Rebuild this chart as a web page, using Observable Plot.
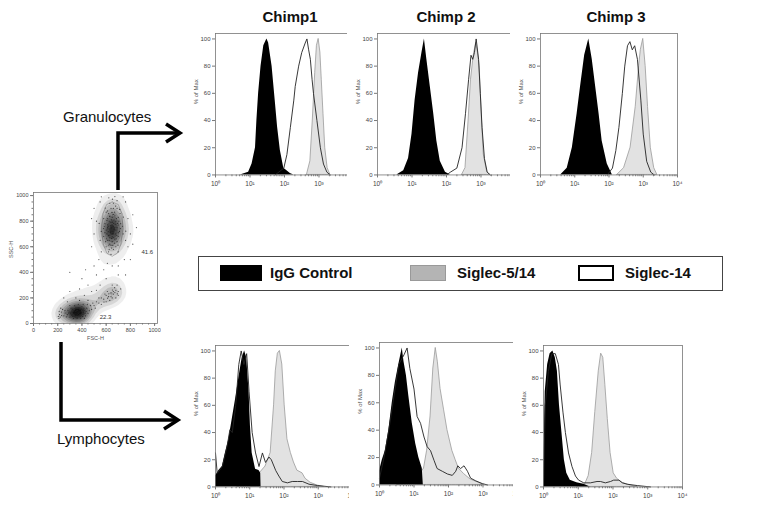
<!DOCTYPE html>
<html><head><meta charset="utf-8">
<script src="https://cdn.jsdelivr.net/npm/d3@7"></script>
<script src="https://cdn.jsdelivr.net/npm/@observablehq/plot@0.6"></script>
<style>
body{margin:0;background:#fff;font-family:"Liberation Sans",Arial,sans-serif;}
#root{position:relative;width:761px;height:508px;overflow:hidden;background:#fff;}
.abs{position:absolute;}
.title{position:absolute;font-weight:bold;font-size:15px;color:#111;transform:translate(-50%,-50%);white-space:nowrap;}
.pop{position:absolute;font-size:15px;color:#111;white-space:nowrap;transform:translateY(-50%);}
.leg{position:absolute;left:198px;top:256px;width:525px;height:35px;box-sizing:border-box;border:1.5px solid #444;}
.sw{position:absolute;box-sizing:border-box;}
.lt{position:absolute;font-weight:bold;font-size:15px;color:#111;transform:translateY(-50%);white-space:nowrap;}
</style></head>
<body><div id="root"></div>
<script>
// ---------- data ----------
const chimps = ["Chimp1", "Chimp 2", "Chimp 3"];
const populations = ["Granulocytes", "Lymphocytes"];
const legendLabels = ["IgG Control", "Siglec-5/14", "Siglec-14"];
const histTicks = [1, 10, 100, 1000, 10000];
const pctTicks = [0, 20, 40, 60, 80, 100];
const scatterTicks = [0, 200, 400, 600, 800, 1000];
const gateLabels = [{fsc: 940, ssc: 555, t: "41.6"}, {fsc: 595, ssc: 48, t: "22.3"}];

// histogram series: [log10 fluorescence, % of max]
// Granulocytes
const g1Igg = [[0.72,0],[0.96,2],[1.06,8],[1.16,20],[1.2,40],[1.25,60],[1.32,80],[1.4,95],[1.49,100],[1.54,97],[1.64,80],[1.73,55],[1.8,35],[1.88,18],[1.98,5],[2.17,1],[2.27,0]];
const g1S14 = [[1.73,0],[1.98,5],[2.07,15],[2.17,35],[2.27,55],[2.31,65],[2.41,80],[2.5,90],[2.6,97],[2.65,100],[2.7,92],[2.75,85],[2.8,70],[2.84,60],[2.94,40],[3.04,20],[3.13,8],[3.23,2],[3.33,0]];
const g1S514 = [[2.65,0],[2.75,10],[2.82,40],[2.89,75],[2.94,95],[2.99,100],[3.04,90],[3.08,70],[3.13,45],[3.18,20],[3.25,5],[3.33,0]];
const g2Igg = [[0.56,0],[0.76,3],[0.9,12],[1.0,30],[1.09,55],[1.19,75],[1.29,90],[1.36,100],[1.43,85],[1.53,65],[1.63,45],[1.72,25],[1.82,10],[1.97,2],[2.11,0]];
const g2S14 = [[2.01,0],[2.11,2],[2.3,5],[2.45,20],[2.55,45],[2.64,70],[2.71,88],[2.76,85],[2.81,90],[2.86,100],[2.93,85],[2.98,60],[3.03,35],[3.1,12],[3.18,2],[3.27,0]];
const g2S514 = [[2.45,0],[2.55,5],[2.64,40],[2.71,70],[2.79,88],[2.86,97],[2.91,90],[2.96,80],[3.03,40],[3.08,15],[3.18,2],[3.27,0]];
const g3Igg = [[0.59,0],[0.78,5],[0.93,20],[1.07,45],[1.17,65],[1.29,88],[1.41,100],[1.51,85],[1.61,65],[1.71,45],[1.8,25],[1.95,8],[2.1,0]];
const g3S14 = [[1.95,0],[2.1,5],[2.2,18],[2.29,35],[2.39,60],[2.46,80],[2.54,95],[2.61,98],[2.68,92],[2.75,95],[2.83,85],[2.93,55],[3.0,30],[3.1,10],[3.22,2],[3.32,0]];
const g3S514 = [[2.24,0],[2.44,5],[2.63,20],[2.78,50],[2.88,80],[2.93,92],[3.0,100],[3.07,80],[3.14,50],[3.22,20],[3.32,5],[3.41,0]];
// Lymphocytes
const l1Igg = [[0,8],[0.1,12],[0.2,15],[0.29,25],[0.39,35],[0.49,50],[0.59,65],[0.68,80],[0.78,95],[0.85,100],[0.91,95],[0.98,70],[1.02,45],[1.07,25],[1.17,13],[1.27,12],[1.32,10],[1.33,0]];
const l1S14 = [[0,25],[0.05,10],[0.2,15],[0.34,30],[0.42,42],[0.49,40],[0.59,60],[0.68,90],[0.75,100],[0.83,90],[0.91,98],[0.98,70],[1.07,40],[1.17,25],[1.27,15],[1.37,25],[1.46,18],[1.56,22],[1.63,20],[1.76,12],[1.85,8],[1.95,4],[2.1,3],[2.24,4],[2.39,4],[2.54,4],[2.73,2],[2.98,1],[3.37,0]];
const l1S514 = [[0.63,0],[0.93,2],[1.22,8],[1.46,15],[1.61,25],[1.71,60],[1.76,85],[1.82,98],[1.88,100],[1.95,90],[2.02,60],[2.1,35],[2.2,25],[2.29,18],[2.39,12],[2.54,10],[2.63,6],[2.78,3],[2.98,1],[3.17,0]];
const l2Igg = [[0,10],[0.08,18],[0.17,25],[0.27,40],[0.37,60],[0.46,75],[0.56,88],[0.66,100],[0.71,90],[0.78,80],[0.85,65],[0.95,45],[1.05,30],[1.14,20],[1.24,12],[1.27,0]];
const l2S14 = [[0,5],[0.13,20],[0.27,40],[0.42,65],[0.56,88],[0.71,95],[0.8,100],[0.88,85],[1.0,70],[1.09,50],[1.19,45],[1.29,35],[1.38,28],[1.48,25],[1.58,18],[1.67,12],[1.82,10],[1.97,8],[2.11,7],[2.21,10],[2.27,14],[2.35,12],[2.45,14],[2.55,10],[2.64,5],[2.79,3],[2.98,1],[3.13,0]];
const l2S514 = [[0.51,0],[0.8,3],[1.09,5],[1.29,12],[1.38,25],[1.48,50],[1.56,85],[1.63,100],[1.69,90],[1.77,70],[1.87,55],[1.97,40],[2.11,25],[2.21,18],[2.3,12],[2.45,8],[2.64,4],[2.84,2],[3.03,0]];
const l3Igg = [[0,0],[0.05,70],[0.12,90],[0.19,98],[0.27,100],[0.34,95],[0.4,85],[0.46,60],[0.53,40],[0.6,20],[0.67,10],[0.77,5],[0.96,3],[1.16,2],[1.35,0]];
const l3S14 = [[0,0],[0.05,60],[0.14,85],[0.24,98],[0.34,98],[0.43,90],[0.48,75],[0.56,55],[0.63,40],[0.72,25],[0.82,15],[0.92,8],[1.01,5],[1.16,3],[1.35,3],[1.54,4],[1.64,4],[1.78,3],[1.93,4],[2.02,5],[2.17,5],[2.27,3],[2.41,2],[2.7,1],[3.08,0]];
const l3S514 = [[0.96,0],[1.2,2],[1.3,8],[1.4,25],[1.49,55],[1.59,85],[1.66,98],[1.72,95],[1.78,75],[1.85,50],[1.93,25],[2.02,10],[2.12,6],[2.27,3],[2.51,1],[2.7,0]];

// FSC-H / SSC-H scatter events (approximate)
const granEvents = [[620,560],[640,540],[600,600],[660,580],[680,600],[630,620],[610,650],[650,640],[690,640],[700,680],[580,680],[620,690],[660,700],[640,720],[600,730],[680,730],[710,720],[620,760],[660,760],[700,770],[590,780],[640,790],[680,800],[610,820],[650,830],[700,830],[620,860],[670,870],[640,900],[690,900],[660,940],[600,870],[720,780],[560,720],[740,700],[630,670],[670,660],[650,680],[615,740],[690,750],[645,750],[625,800],[665,810],[655,850],[635,710],[675,700],[705,800],[585,760],[605,700],[655,610],[625,580],[645,590],[715,860],[580,820],[595,640],[735,760],[550,650],[760,650],[690,960],[630,940],[700,560],[560,560],[665,735],[645,665],[628,838],[672,842],[612,772],[688,688],[652,792],[618,718],[635,765],[675,775],[655,720],[625,650],[685,820],[610,880],[660,900],[640,610],[700,710],[590,710],[648,868],[668,628],[622,688],[694,782],[606,806],[678,918],[632,840],[658,672],[642,742],[662,782],[632,692],[652,702],[672,752],[612,752],[682,662],[602,662],[718,742],[578,742],[642,812],[662,852],[622,612],[698,612],[712,892],[592,902],[652,972],[672,992],[622,982],[742,832],[542,782],[762,722]];
const lymphEvents = [[220,50],[215,70],[230,90],[250,60],[260,100],[280,70],[300,50],[300,90],[310,120],[320,70],[330,100],[340,60],[350,80],[350,120],[360,50],[370,90],[380,110],[380,70],[390,60],[400,90],[400,130],[410,70],[420,100],[430,60],[440,120],[450,80],[460,100],[470,140],[330,40],[360,40],[390,40],[420,40],[340,140],[370,150],[300,140],[320,90],[345,95],[365,70],[395,80],[415,115],[435,95],[355,105],[375,60],[325,55],[305,75],[285,100],[410,150],[445,150],[480,110],[490,160],[335,80],[385,95],[405,55],[355,65],[425,80],[370,120],[345,50],[395,110],[210,40],[240,110],[362,82],[372,78],[352,92],[382,88],[392,72],[342,72],[402,102],[412,88],[362,102],[332,68],[322,112],[312,62],[292,82],[272,52],[262,82],[232,62],[205,55],[212,95],[225,120]];
const monoEvents = [[500,140],[520,170],[540,160],[560,200],[580,190],[600,220],[620,210],[640,240],[660,230],[680,260],[700,250],[650,200],[630,180],[610,250],[670,280],[700,220],[720,270],[560,150],[590,230],[540,200],[510,120],[690,300],[650,300],[600,170],[680,200],[660,250],[640,210],[622,232],[672,242],[652,262],[692,232],[612,198],[582,168]];
const strayEvents = [[300,250],[400,350],[450,300],[500,450],[520,380],[550,300],[300,400],[350,200],[420,220],[480,250],[540,500],[580,420],[700,450],[750,500],[780,600],[800,700],[820,850],[500,700],[520,800],[480,600],[760,950],[550,950],[800,500],[600,350],[450,180],[250,200],[380,270],[700,380],[760,380],[650,450],[850,750],[500,900],[430,420],[610,470],[820,620],[780,820],[480,820],[560,990],[740,990],[380,180],[520,260],[280,170]];
const granGate = [[650,950],[700,930],[730,860],[738,740],[722,620],[692,550],[650,525],[606,550],[576,620],[562,740],[574,860],[604,930],[650,950]];

// ---------- helpers ----------
const root = document.getElementById("root");
const SUP = {0:"\u2070",1:"\u00b9",2:"\u00b2",3:"\u00b3",4:"\u2074"};
const minorTicks = [];
for (let d = 0; d < 4; d++) for (let m = 2; m <= 9; m++) minorTicks.push(m * 10 ** d);
const FONT = "'Liberation Sans', Arial, sans-serif";

function place(node, left, top) {
  const w = document.createElement("div");
  w.className = "abs";
  w.style.left = left + "px";
  w.style.top = top + "px";
  w.appendChild(node);
  root.appendChild(w);
}
const toPts = (arr) => arr.map(([e, v]) => ({x: 10 ** e, y: v}));

function hist(left, right, y0, y100, igg, s514, s14) {
  const k = (y0 - y100) / 100;
  const yTop = y0 - 104 * k;
  const ml = 30, mr = 8, mt = 4, mb = 22;
  const svg = Plot.plot({
    width: right - left + ml + mr,
    height: y0 - yTop + mt + mb,
    marginLeft: ml, marginRight: mr, marginTop: mt, marginBottom: mb,
    style: {fontFamily: FONT, fontSize: "6px", color: "#444", background: "white"},
    x: {type: "log", domain: [1, 1e4]},
    y: {domain: [0, 104]},
    marks: [
      Plot.areaY(toPts(s514), {x: "x", y: "y", fill: "#e2e2e2", stroke: "#9a9a9a", strokeWidth: 0.8}),
      Plot.areaY(toPts(igg), {x: "x", y: "y", fill: "#000"}),
      Plot.lineY(toPts(s14), {x: "x", y: "y", stroke: "#222", strokeWidth: 0.9}),
      Plot.frame({stroke: "#777", strokeWidth: 0.8}),
      Plot.axisY({ticks: pctTicks, tickSize: 3, tickPadding: 2, fontSize: 6, label: null, stroke: "#777"}),
      Plot.axisX({ticks: histTicks, tickSize: 3, tickPadding: 3, fontSize: 6.5, label: null, stroke: "#777",
        tickFormat: (d) => "10" + SUP[Math.round(Math.log10(d))]}),
      Plot.axisX({ticks: minorTicks, tickSize: 1.8, label: null, stroke: "#777", tickFormat: () => ""}),
      Plot.text(["% of Max"], {frameAnchor: "left", rotate: -90, dx: -19, fontSize: 6, fill: "#555"})
    ]
  });
  place(svg, left - ml, yTop - mt);
}

// ---------- histograms ----------
hist(215, 353, 174, 38, g1Igg, g1S514, g1S14);
hist(377, 515, 174, 38, g2Igg, g2S514, g2S14);
hist(540, 677, 174, 38, g3Igg, g3S514, g3S14);
hist(215, 352, 486, 350, l1Igg, l1S514, l1S14);
hist(379, 517, 484, 347, l2Igg, l2S514, l2S14);
hist(543, 682, 486, 350, l3Igg, l3S514, l3S14);

// ---------- scatter ----------
(function () {
  const ml = 26, mr = 4, mt = 4, mb = 20;
  const allEvents = [...granEvents, ...lymphEvents, ...monoEvents, ...strayEvents];
  const svg = Plot.plot({
    width: 124 + ml + mr, height: 131 + mt + mb,
    marginLeft: ml, marginRight: mr, marginTop: mt, marginBottom: mb,
    style: {fontFamily: FONT, fontSize: "6px", color: "#444", background: "white"},
    x: {domain: [0, 1024]}, y: {domain: [0, 1024]},
    color: {type: "linear", range: ["#ffffff", "#000000"]},
    marks: [
      Plot.density(allEvents, {x: (d) => d[0], y: (d) => d[1], bandwidth: 5, thresholds: 10, fill: "density", fillOpacity: 0.6, stroke: null, clip: true}),
      Plot.dot(allEvents, {x: (d) => d[0], y: (d) => d[1], r: 0.6, fill: "#222", fillOpacity: 0.8, stroke: null}),
      Plot.line(granGate, {x: (d) => d[0], y: (d) => d[1], stroke: "#333", strokeWidth: 0.6, strokeOpacity: 0.5}),
      Plot.text(gateLabels, {x: "fsc", y: "ssc", text: "t", fontSize: 6, fill: "#333"}),
      Plot.frame({stroke: "#777", strokeWidth: 0.8}),
      Plot.axisY({ticks: scatterTicks, tickSize: 3, tickPadding: 2, fontSize: 5.5, label: null, stroke: "#777", tickFormat: (d) => String(d)}),
      Plot.axisY({ticks: d3.range(0, 1001, 50), tickSize: 1.5, label: null, stroke: "#777", tickFormat: () => ""}),
      Plot.axisX({ticks: scatterTicks, tickSize: 3, tickPadding: 2, fontSize: 5.5, label: null, stroke: "#777", tickFormat: (d) => String(d)}),
      Plot.axisX({ticks: d3.range(0, 1001, 50), tickSize: 1.5, label: null, stroke: "#777", tickFormat: () => ""}),
      Plot.text(["SSC-H"], {frameAnchor: "left", rotate: -90, dx: -22, fontSize: 5.5, fill: "#555"}),
      Plot.text(["FSC-H"], {frameAnchor: "bottom", dy: 16, fontSize: 5.5, fill: "#555"})
    ]
  });
  place(svg, 33 - ml, 192 - mt);
})();

// ---------- arrows ----------
(function () {
  const ns = "http://www.w3.org/2000/svg";
  const s = document.createElementNS(ns, "svg");
  s.setAttribute("width", 761); s.setAttribute("height", 508);
  s.style.position = "absolute"; s.style.left = "0"; s.style.top = "0"; s.style.pointerEvents = "none";
  const paths = [
    "M118,190 L118,133 L178,133", "M166,124 L180,133 L166,142",
    "M61,342 L61,420 L176,420", "M164,411 L178,420 L164,429"
  ];
  for (const d of paths) {
    const p = document.createElementNS(ns, "path");
    p.setAttribute("d", d); p.setAttribute("fill", "none"); p.setAttribute("stroke", "#000");
    p.setAttribute("stroke-width", "3.5"); p.setAttribute("stroke-linejoin", "miter");
    s.appendChild(p);
  }
  root.appendChild(s);
})();

// ---------- titles & labels ----------
const titleX = [290, 446, 616];
chimps.forEach((c, i) => {
  const t = document.createElement("div");
  t.className = "title"; t.textContent = c;
  t.style.left = titleX[i] + "px"; t.style.top = "16px";
  root.appendChild(t);
});
const popPos = [[63, 116], [57, 438]];
populations.forEach((p, i) => {
  const t = document.createElement("div");
  t.className = "pop"; t.textContent = p;
  t.style.left = popPos[i][0] + "px"; t.style.top = popPos[i][1] + "px";
  root.appendChild(t);
});

// ---------- legend ----------
(function () {
  const leg = document.createElement("div");
  leg.className = "leg";
  const sw = [
    {x: 21, w: 42, bg: "#000", border: "none", tx: 71},
    {x: 211, w: 36, bg: "#b4b4b4", border: "1px solid #999", tx: 258},
    {x: 379, w: 36, bg: "#fff", border: "2px solid #000", tx: 426}
  ];
  legendLabels.forEach((l, i) => {
    const b = document.createElement("div");
    b.className = "sw";
    b.style.left = sw[i].x + "px"; b.style.top = "8px";
    b.style.width = sw[i].w + "px"; b.style.height = "16px";
    b.style.background = sw[i].bg; b.style.border = sw[i].border;
    leg.appendChild(b);
    const t = document.createElement("div");
    t.className = "lt"; t.textContent = l;
    t.style.left = sw[i].tx + "px"; t.style.top = "15px";
    leg.appendChild(t);
  });
  root.appendChild(leg);
})();
</script>
</body></html>
